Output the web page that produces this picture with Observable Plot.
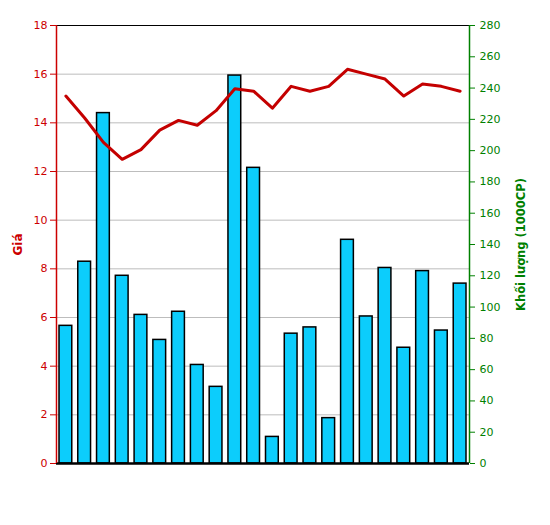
<!DOCTYPE html>
<html>
<head>
<meta charset="utf-8">
<script src="https://cdn.jsdelivr.net/npm/d3@7"></script>
<script src="https://cdn.jsdelivr.net/npm/@observablehq/plot@0.6"></script>
<style>
  html, body { margin: 0; padding: 0; background: #fff; }
</style>
</head>
<body>
<div id="chart"></div>
<script>
const sessions = d3.range(1, 23);
const volume = [88, 129, 224, 120, 95, 79, 97, 63, 49, 248, 189, 17, 83, 87, 29, 143, 94, 125, 74, 123, 85, 115];
const price = [15.1, 14.2, 13.2, 12.5, 12.9, 13.7, 14.1, 13.9, 14.5, 15.4, 15.3, 14.6, 15.5, 15.3, 15.5, 16.2, 16.0, 15.8, 15.1, 15.6, 15.5, 15.3];
const priceTicks = [0, 2, 4, 6, 8, 10, 12, 14, 16, 18];
const volumeTicks = [0, 20, 40, 60, 80, 100, 120, 140, 160, 180, 200, 220, 240, 260, 280];
const priceMax = 18, volumeMax = 280;
const leftLabel = "Giá";
const rightLabel = "Khối lượng (1000CP)";

const k = priceMax / volumeMax;
const rows = sessions.map((s, i) => ({i, s, volume: volume[i], price: price[i]}));

const chart = Plot.plot({
  width: 550,
  height: 525,
  marginLeft: 56,
  marginRight: 81,
  marginTop: 25,
  marginBottom: 62,
  style: {fontFamily: "DejaVu Sans, Verdana, sans-serif", fontSize: "11px", background: "#fff"},
  x: {domain: [0, sessions.length], axis: null},
  y: {domain: [0, priceMax], axis: null},
  marks: [
    Plot.gridY(priceTicks.filter(t => t > 0 && t < priceMax), {stroke: "#bdbdbd", strokeOpacity: 1, strokeWidth: 1}),
    Plot.rectY(rows, {x1: d => d.i, x2: d => d.i + 1, y1: 0, y2: d => d.volume * k, insetLeft: 3, insetRight: 3, fill: "#0ccdfc", stroke: "#000", strokeWidth: 1.5}),
    Plot.line(rows, {x: d => d.i + 0.5, y: "price", stroke: "#c40000", strokeWidth: 3, strokeLinejoin: "round"}),
    Plot.ruleY([priceMax], {stroke: "#000", strokeWidth: 1}),
    Plot.ruleY([0], {stroke: "#000", strokeWidth: 2.5}),
    Plot.ruleX([0], {stroke: "#cc0000", strokeWidth: 1.5}),
    Plot.ruleX([sessions.length], {stroke: "#008000", strokeWidth: 1.5}),
    Plot.axisY(priceTicks, {anchor: "left", tickSize: 6, tickPadding: 3, color: "#cc0000", label: null, tickFormat: d => d}),
    Plot.axisY(volumeTicks.map(v => v * k), {anchor: "right", tickSize: 5, tickPadding: 5, color: "#008000", label: null, tickFormat: d => Math.round(d / k)}),
    Plot.text([leftLabel], {frameAnchor: "left", dx: -38, rotate: -90, textAnchor: "middle", fill: "#cc0000", fontWeight: "bold", fontSize: 12, text: d => d}),
    Plot.text([rightLabel], {frameAnchor: "right", dx: 52, rotate: -90, textAnchor: "middle", fill: "#008000", fontWeight: "bold", fontSize: 11.5, text: d => d})
  ]
});
document.getElementById("chart").appendChild(chart);
</script>
</body>
</html>
